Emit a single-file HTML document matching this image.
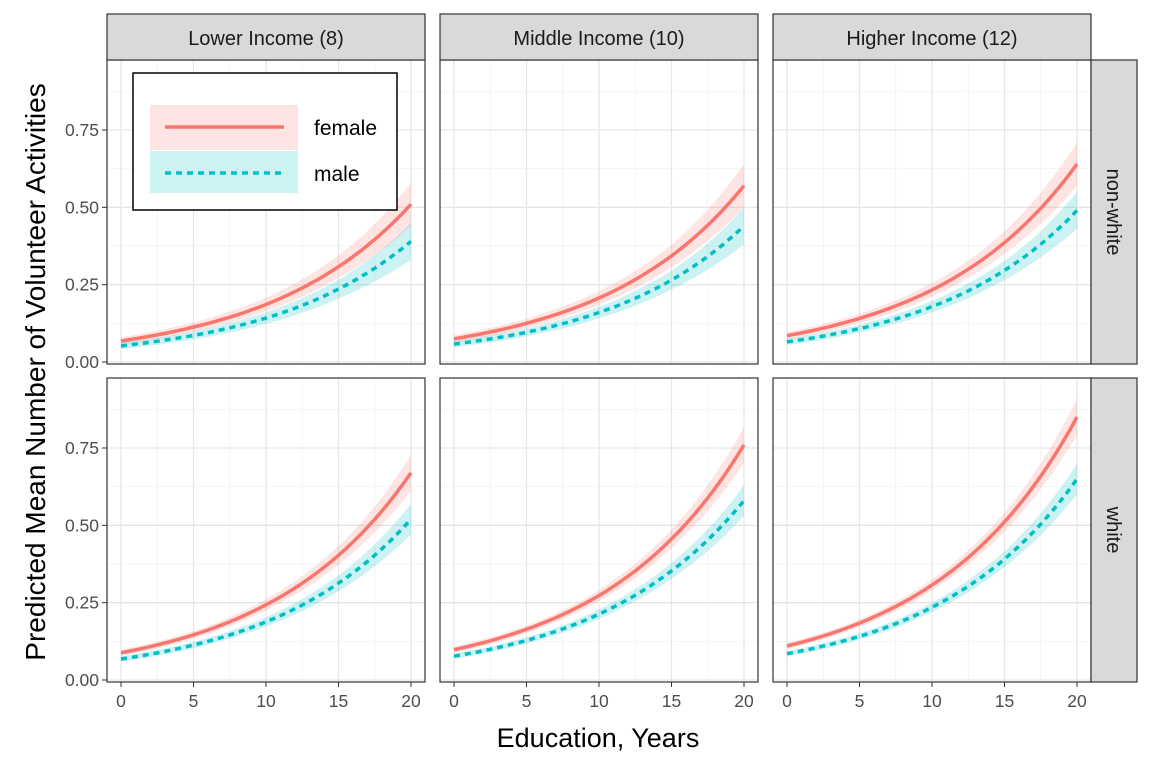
<!DOCTYPE html>
<html><head><meta charset="utf-8"><style>
body{margin:0;background:#fff;}
svg{display:block;font-family:"Liberation Sans",sans-serif;}
</style></head><body>
<svg id="chart" width="1152" height="768" viewBox="0 0 1152 768"></svg>
<script>
const xs = [0,5,10,15,20];
const colLabels = ["Lower Income (8)","Middle Income (10)","Higher Income (12)"];
const rowLabels = ["non-white","white"];
const femaleR1 = [[0.068,0.113,0.186,0.308,0.51],[0.075,0.125,0.207,0.343,0.57],[0.085,0.141,0.233,0.386,0.64]];
const maleR1 = [[0.052,0.086,0.142,0.236,0.39],[0.058,0.096,0.160,0.265,0.44],[0.065,0.108,0.179,0.296,0.49]];
const femaleR2 = [[0.088,0.146,0.243,0.403,0.67],[0.098,0.164,0.273,0.456,0.76],[0.11,0.184,0.307,0.511,0.85]];
const maleR2 = [[0.068,0.113,0.188,0.313,0.52],[0.077,0.128,0.213,0.353,0.58],[0.085,0.141,0.235,0.391,0.65]];
const bandR1 = [0.012,0.015,0.022,0.036,0.07];
const bandR2 = [0.01,0.012,0.018,0.03,0.058];
const yTicks = [0,0.25,0.5,0.75];
const yTickLabels = ["0.00","0.25","0.50","0.75"];
const xTicks = [0,5,10,15,20];

const NS="http://www.w3.org/2000/svg";
const svg=document.getElementById('chart');
function el(tag,attrs,parent){const e=document.createElementNS(NS,tag);for(const k in attrs)e.setAttribute(k,attrs[k]);(parent||svg).appendChild(e);return e;}
const panelX=[107,440,773], panelW=318;
const panelY=[60,378], panelH=304;
function sx(c,v){return panelX[c]+14+v*(panelW-28)/20;}
function sy(r,v){return panelY[r]+302-v*(232/0.75);}
// log-space interpolation between data points for smooth exponential-like curves
function curve(c,r,vals){
  const out=[];
  for(let i=0;i<vals.length-1;i++){
    for(let k=0;k<10;k++){const t=k/10;
      const v=vals[i]*Math.pow(vals[i+1]/vals[i],t);
      out.push([sx(c,xs[i]+t*(xs[i+1]-xs[i])),sy(r,v)]);}
  }
  out.push([sx(c,xs[xs.length-1]),sy(r,vals[vals.length-1])]);
  return out;
}
function ptsStr(a){return a.map(p=>p[0].toFixed(1)+','+p[1].toFixed(1)).join(' ');}
const fem=[femaleR1,femaleR2], mal=[maleR1,maleR2], bands=[bandR1,bandR2];
for(let r=0;r<2;r++){for(let c=0;c<3;c++){
  const g=el('g',{});
  
  
  el('rect',{x:panelX[c],y:panelY[r],width:panelW,height:panelH,fill:'#fff'},g);
  for(let v=0.125;v<0.9;v+=0.25){const y=sy(r,v);if(y>panelY[r])el('line',{x1:panelX[c],x2:panelX[c]+panelW,y1:y,y2:y,stroke:'#f1f1f1','stroke-width':0.7},g);}
  for(let v=2.5;v<21;v+=5)el('line',{x1:sx(c,v),x2:sx(c,v),y1:panelY[r],y2:panelY[r]+panelH,stroke:'#f1f1f1','stroke-width':0.7},g);
  yTicks.forEach(v=>{const y=sy(r,v);el('line',{x1:panelX[c],x2:panelX[c]+panelW,y1:y,y2:y,stroke:'#e6e6e6','stroke-width':1.3},g);});
  xTicks.forEach(v=>{el('line',{x1:sx(c,v),x2:sx(c,v),y1:panelY[r],y2:panelY[r]+panelH,stroke:'#e6e6e6','stroke-width':1.3},g);});
  [[fem,'#F8766D',null],[mal,'#00BFC4','6,5']].forEach(([set,col,dash])=>{
    const vals=set[r][c];
    const s=(set===mal?0.85:1);
    const up=curve(c,r,vals.map((v,i)=>v+bands[r][i]*s));
    const lo=curve(c,r,vals.map((v,i)=>Math.max(0.001,v-bands[r][i]*s)));
    const band=el('polygon',{points:ptsStr(up.concat(lo.reverse())),fill:col,'fill-opacity':0.2},g);
    
    
    const ln=el('polyline',{points:ptsStr(curve(c,r,vals)),fill:'none',stroke:col,'stroke-width':3.5},g);
    if(dash)ln.setAttribute('stroke-dasharray',dash);
    
    
  });
  el('rect',{x:panelX[c],y:panelY[r],width:panelW,height:panelH,fill:'none',stroke:'#333','stroke-width':1.2},g);
  if(c===0){yTicks.forEach((v,i)=>{const y=sy(r,v);el('line',{x1:panelX[c]-5,x2:panelX[c],y1:y,y2:y,stroke:'#333'});
    const t=el('text',{x:panelX[c]-8,y:y+6,'text-anchor':'end','font-size':17.5,fill:'#4d4d4d'});t.textContent=yTickLabels[i];
    });}
  if(r===1){xTicks.forEach(v=>{const x=sx(c,v);el('line',{x1:x,x2:x,y1:panelY[r]+panelH,y2:panelY[r]+panelH+5,stroke:'#333'});
    const t=el('text',{x:x,y:707,'text-anchor':'middle','font-size':17.5,fill:'#4d4d4d'});t.textContent=v;
    });}
}}
colLabels.forEach((l,c)=>{el('rect',{x:panelX[c],y:14,width:panelW,height:46,fill:'#d9d9d9',stroke:'#333','stroke-width':1.2});
  const t=el('text',{x:panelX[c]+panelW/2,y:45,'text-anchor':'middle','font-size':20,fill:'#1a1a1a'});t.textContent=l;
  });
rowLabels.forEach((l,r)=>{el('rect',{x:1091,y:panelY[r],width:46,height:panelH,fill:'#d9d9d9',stroke:'#333','stroke-width':1.2});
  const t=el('text',{x:0,y:0,'text-anchor':'middle','font-size':20,fill:'#1a1a1a',transform:`translate(1107,${panelY[r]+panelH/2}) rotate(90)`});t.textContent=l;
  });
</script>
<svg style="position:absolute;left:0;top:0" width="1152" height="768">
<text x="598" y="747" text-anchor="middle" font-size="27" font-family="Liberation Sans,sans-serif" fill="#000">Education, Years</text>
<text transform="translate(45,372) rotate(-90)" text-anchor="middle" font-size="28" font-family="Liberation Sans,sans-serif" fill="#000">Predicted Mean Number of Volunteer Activities</text>
<g>
<rect x="133" y="73" width="264" height="137" fill="#fff" stroke="#000" stroke-width="1.5"/>
<rect x="150" y="105" width="148" height="45" fill="#F8766D" fill-opacity="0.2"/>
<rect x="150" y="151" width="148" height="42" fill="#00BFC4" fill-opacity="0.2"/>
<line x1="165" x2="284" y1="127" y2="127" stroke="#F8766D" stroke-width="3.5"/>
<line x1="165" x2="284" y1="173" y2="173" stroke="#00BFC4" stroke-width="3.5" stroke-dasharray="6,5"/>
<text x="314" y="135" font-size="21" font-family="Liberation Sans,sans-serif">female</text>
<text x="314" y="181" font-size="21" font-family="Liberation Sans,sans-serif">male</text>
</g>
</svg>
</body></html>
